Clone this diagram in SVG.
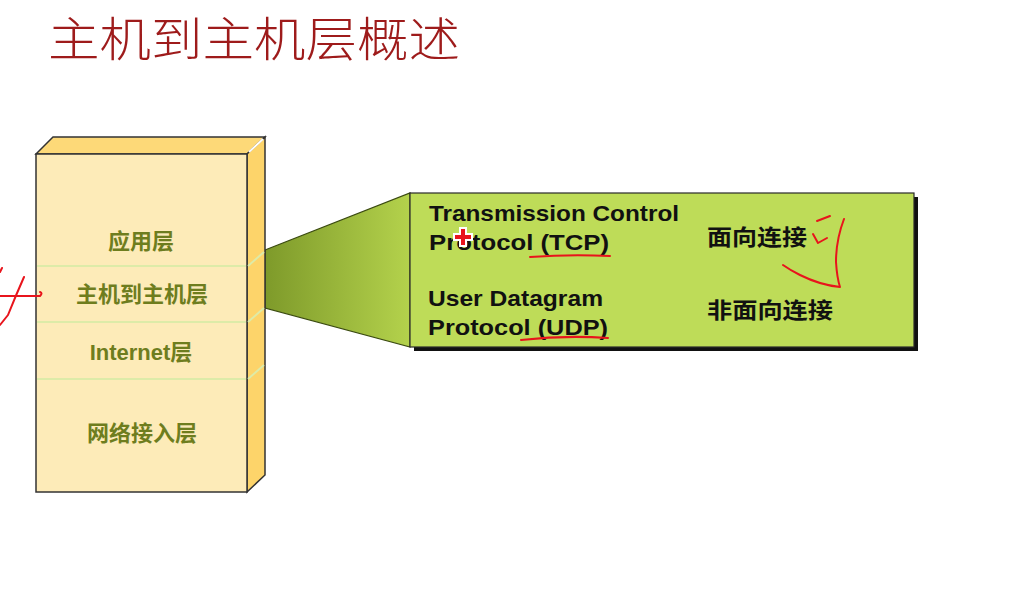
<svg xmlns="http://www.w3.org/2000/svg" width="1010" height="589" viewBox="0 0 1010 589">
<defs>
<linearGradient id="callGrad" x1="0" y1="0" x2="1" y2="0">
<stop offset="0" stop-color="#7E9A2A"/>
<stop offset="1" stop-color="#B4D24C"/>
</linearGradient>
<style>
.layer{font-family:"Liberation Sans","Noto Sans CJK SC",sans-serif;font-weight:bold;font-size:22px;fill:#6E7D1E;text-anchor:middle}
.en{font-family:"Liberation Sans","Noto Sans CJK SC",sans-serif;font-weight:bold;font-size:22px;fill:#111}
.cn{font-family:"Noto Sans CJK SC",sans-serif;font-weight:bold;font-size:22px;fill:#111}
.div{stroke:#DDEBA8;stroke-width:2;fill:none}
.ink{stroke:#E8141C;stroke-width:2;fill:none;stroke-linecap:round;stroke-linejoin:round}
</style>
</defs>
<rect width="1010" height="589" fill="#FFFFFF"/>
<g id="title">
<text x="48" y="56" font-family="Noto Sans CJK SC, sans-serif" font-size="47" font-weight="300" fill="#9E1B1B" textLength="412" lengthAdjust="spacingAndGlyphs">主机到主机层概述</text>
</g>
<g id="callout-connector">
<polygon points="265,250 410,193 410,347 265,308" fill="url(#callGrad)" stroke="#3A4A10" stroke-width="1.2"/>
</g>
<g id="stack">
<polygon points="36,154 53,137 265,137 247,154" fill="#FDD978" stroke="#333" stroke-width="1.5"/>
<polygon points="247,154 265,137 265,475 247,492" fill="#FDD46A" stroke="#333" stroke-width="1.5"/>
<rect x="36" y="154" width="211" height="338" fill="#FDEBB8" stroke="#333" stroke-width="1.5"/>
<line x1="249" y1="152" x2="263" y2="139" stroke="#FFFFFF" stroke-width="2"/>
<line class="div" x1="37" y1="266" x2="246" y2="266"/>
<line class="div" x1="37" y1="322" x2="246" y2="322"/>
<line class="div" x1="37" y1="379" x2="246" y2="379"/>
<line class="div" x1="248" y1="266" x2="264" y2="252"/>
<line class="div" x1="248" y1="322" x2="264" y2="308"/>
<line class="div" x1="248" y1="379" x2="264" y2="365"/>
<text class="layer" x="141" y="249">应用层</text>
<text class="layer" x="142" y="302">主机到主机层</text>
<text class="layer" x="141" y="360">Internet层</text>
<text class="layer" x="142" y="441">网络接入层</text>
</g>
<g id="protocol-box">
<rect x="414" y="197" width="504" height="154" fill="#111"/>
<rect x="410" y="193" width="504" height="154" fill="#BEDC58" stroke="#2A2A2A" stroke-width="1.2"/>
<text class="en" x="429" y="221" textLength="250" lengthAdjust="spacingAndGlyphs">Transmission Control</text>
<text class="en" x="429" y="250" textLength="180" lengthAdjust="spacingAndGlyphs">Protocol (TCP)</text>
<text class="en" x="428" y="306" textLength="175" lengthAdjust="spacingAndGlyphs">User Datagram</text>
<text class="en" x="428" y="335" textLength="180" lengthAdjust="spacingAndGlyphs">Protocol (UDP)</text>
<text class="cn" x="707" y="245" textLength="100" lengthAdjust="spacingAndGlyphs">面向连接</text>
<text class="cn" x="707" y="318" textLength="126" lengthAdjust="spacingAndGlyphs">非面向连接</text>
</g>
<g id="annotations">
<path class="ink" d="M530,257 Q570,254 610,256"/>
<path class="ink" d="M521,340 Q565,335 608,338"/>
<path class="ink" d="M817,221 L830,216"/>
<path class="ink" d="M813,234 L818,243 L827,238"/>
<path class="ink" d="M844,219 Q836,240 836,262 Q837,278 840,287 Q820,285 800,275 Q790,270 783,265"/>
<path class="ink" d="M0,296 L40,296 Q43,293 40,292"/>
<path class="ink" d="M24,277 Q16,295 8,315 L0,325"/>
<path class="ink" d="M2,268 L0,272"/>
<g transform="translate(463,237)">
<path d="M-3,-9 h6 v6 h6 v6 h-6 v6 h-6 v-6 h-6 v-6 h6 z" fill="#E8141C" stroke="#FFFFFF" stroke-width="2"/>
</g>
</g>
</svg>
